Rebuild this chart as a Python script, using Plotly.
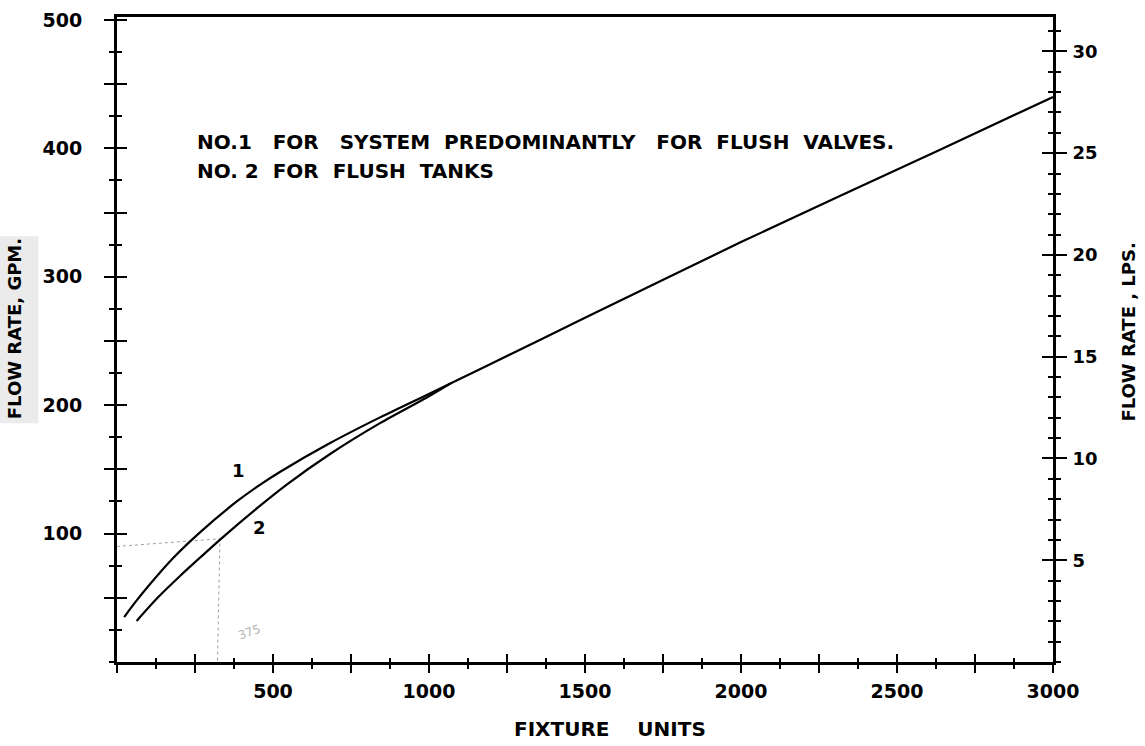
import plotly.graph_objects as go

# ---------------- data ----------------
GPM_PER_LPS = 15.85

# Curve No.1 - system predominantly for flush valves
fu_valves = [23, 60, 100, 180, 266, 384, 458, 522, 683, 843, 993, 1163, 1500, 2000, 2638, 3000]
gpm_valves = [35, 47, 59, 81, 101, 125, 138, 148, 170.5, 190.5, 208, 228, 268, 327, 399, 440]

# Curve No.2 - flush tanks (joins curve 1 near 1000 FU)
fu_tanks = [63, 130, 202, 265, 336, 450, 543, 683, 843, 993, 1070]
gpm_tanks = [32, 50, 67, 81, 96.5, 120, 138, 162, 186, 206, 217]

# faint pencilled read-off guide
guide_fu = [0, 330, 322]
guide_gpm = [90, 96, 0]

x_major = list(range(0, 3001, 250))
x_labels = [str(v) if (v % 500 == 0 and v > 0) else "" for v in x_major]
y_major = list(range(50, 501, 50))
y_labels = [str(v) if v % 100 == 0 else "" for v in y_major]
lps_major = [5, 10, 15, 20, 25, 30]
lps_labels = [str(v) for v in lps_major]

S2 = "\u00a0 "
S3 = "\u00a0\u00a0 "
note_lines = ["NO.1" + S3 + "FOR" + S3 + "SYSTEM" + S2 + "PREDOMINANTLY" + S3 + "FOR" + S2
              + "FLUSH" + S2 + "VALVES.",
              "NO. 2" + S2 + "FOR" + S2 + "FLUSH" + S2 + "TANKS"]

# ---------------- figure ----------------
FONT = "DejaVu Sans"
Y_MAX = 502.3
X_MAX = 3000

fig = go.Figure()

fig.add_trace(go.Scatter(x=guide_fu, y=guide_gpm, mode="lines",
                         line=dict(color="#a0a0a0", width=1, dash="dot"),
                         hoverinfo="skip"))
fig.add_trace(go.Scatter(x=fu_valves, y=gpm_valves, mode="lines", name="1",
                         line=dict(color="black", width=2.2, shape="spline", smoothing=0.8)))
fig.add_trace(go.Scatter(x=fu_tanks, y=gpm_tanks, mode="lines", name="2",
                         line=dict(color="black", width=2.2, shape="spline", smoothing=0.8)))

# invisible carriers so the extra (tick-only) axes are drawn
fig.add_trace(go.Scatter(x=fu_valves, y=gpm_valves, xaxis="x2", yaxis="y", opacity=0,
                         mode="lines", hoverinfo="skip"))
fig.add_trace(go.Scatter(x=fu_valves, y=[g / GPM_PER_LPS for g in gpm_valves], xaxis="x",
                         yaxis="y2", opacity=0, mode="lines", hoverinfo="skip"))
fig.add_trace(go.Scatter(x=fu_valves, y=gpm_valves, xaxis="x", yaxis="y3", opacity=0,
                         mode="lines", hoverinfo="skip"))
fig.add_trace(go.Scatter(x=fu_valves, y=[g / GPM_PER_LPS for g in gpm_valves], xaxis="x",
                         yaxis="y4", opacity=0, mode="lines", hoverinfo="skip"))

tickfont = dict(family=FONT, size=19, color="black", weight="bold")

fig.update_layout(
    width=1145, height=746,
    margin=dict(l=117, r=92, t=9, b=84),
    paper_bgcolor="white", plot_bgcolor="white",
    showlegend=False,
    xaxis=dict(range=[0, X_MAX], tickmode="array", tickvals=x_major, ticktext=x_labels,
               ticks="outside", ticklen=8, tickwidth=2, tickcolor="black",
               minor=dict(dtick=125, tick0=0, ticks="outside", ticklen=4, tickwidth=2,
                          tickcolor="black", showgrid=False),
               showline=True, linewidth=2.5, linecolor="black", mirror=True,
               showgrid=False, zeroline=False, tickfont=tickfont, ticklabelstandoff=2,
               anchor="y"),
    xaxis2=dict(range=[0, X_MAX], overlaying="x", anchor="y", side="bottom",
                tickmode="array", tickvals=x_major, ticks="inside", ticklen=8, tickwidth=2,
                tickcolor="black",
                minor=dict(dtick=125, tick0=0, ticks="inside", ticklen=4, tickwidth=2,
                           tickcolor="black", showgrid=False),
                showticklabels=False, showline=False, showgrid=False, zeroline=False),
    yaxis=dict(range=[0, Y_MAX], tickmode="array", tickvals=y_major, ticktext=y_labels,
               ticks="outside", ticklen=10, tickwidth=2, tickcolor="black",
               minor=dict(dtick=25, tick0=0, ticks="outside", ticklen=5, tickwidth=2,
                          tickcolor="black", showgrid=False),
               showline=True, linewidth=3, linecolor="black",
               showgrid=False, zeroline=False, tickfont=tickfont, ticklabelstandoff=18,
               anchor="x", side="left"),
    yaxis2=dict(range=[0, Y_MAX / GPM_PER_LPS], overlaying="y", anchor="x", side="right",
                tickmode="array", tickvals=lps_major, ticktext=lps_labels,
                ticks="outside", ticklen=11, tickwidth=2, tickcolor="black",
                minor=dict(dtick=1, tick0=0, ticks="outside", ticklen=5, tickwidth=2,
                           tickcolor="black", showgrid=False),
                showline=True, linewidth=3, linecolor="black",
                showgrid=False, zeroline=False,
                tickfont=dict(family=FONT, size=18, color="black", weight="bold"),
                ticklabelstandoff=2),
    yaxis3=dict(range=[0, Y_MAX], overlaying="y", anchor="x", side="left",
                tickmode="array", tickvals=y_major, ticks="inside", ticklen=10, tickwidth=2,
                tickcolor="black",
                minor=dict(dtick=25, tick0=0, ticks="inside", ticklen=5, tickwidth=2,
                           tickcolor="black", showgrid=False),
                showticklabels=False, showline=False, showgrid=False, zeroline=False),
    yaxis4=dict(range=[0, Y_MAX / GPM_PER_LPS], overlaying="y", anchor="x", side="right",
                tickmode="array", tickvals=lps_major, ticks="inside", ticklen=11, tickwidth=2,
                tickcolor="black",
                minor=dict(dtick=1, tick0=0, ticks="inside", ticklen=5, tickwidth=2,
                           tickcolor="black", showgrid=False),
                showticklabels=False, showline=False, showgrid=False, zeroline=False),
)

# stippled scan shading behind the left axis title
fig.add_shape(type="rect", xref="paper", yref="paper", x0=-0.125, x1=-0.084,
              y0=0.37, y1=0.66, fillcolor="rgba(0,0,0,0.08)", line=dict(width=0),
              layer="below")

ann_font = dict(family=FONT, size=20, color="black", weight="bold")
title_font = dict(family=FONT, size=18, color="black", weight="bold")
fig.add_annotation(text="FIXTURE\u00a0\u00a0\u00a0 UNITS", xref="paper", yref="paper",
                   x=0.527, y=-0.104, showarrow=False, font=ann_font,
                   xanchor="center", yanchor="middle")
fig.add_annotation(text="FLOW RATE, GPM.", xref="paper", yref="paper",
                   x=-0.110, y=0.516, showarrow=False, textangle=-90,
                   font=title_font, xanchor="center", yanchor="middle")
fig.add_annotation(text="FLOW RATE , LPS.", xref="paper", yref="paper",
                   x=1.081, y=0.512, showarrow=False, textangle=-90,
                   font=title_font, xanchor="center", yanchor="middle")
fig.add_annotation(text=note_lines[0], xref="paper", yref="paper",
                   x=0.083, y=0.8055, showarrow=False, font=ann_font,
                   xanchor="left", yanchor="middle")
fig.add_annotation(text=note_lines[1], xref="paper", yref="paper",
                   x=0.083, y=0.761, showarrow=False, font=ann_font,
                   xanchor="left", yanchor="middle")
fig.add_annotation(text="1", x=388, y=149, showarrow=False,
                   font=dict(family=FONT, size=18, color="black", weight="bold"))
fig.add_annotation(text="2", x=458, y=105, showarrow=False,
                   font=dict(family=FONT, size=18, color="black", weight="bold"))
fig.add_annotation(text="375", x=426, y=23, showarrow=False, textangle=-20,
                   font=dict(family=FONT, size=12, color="#b5b5b5"))

fig.write_html("out.html", config={"displayModeBar": False},
               post_script="document.body.style.margin='0';")
